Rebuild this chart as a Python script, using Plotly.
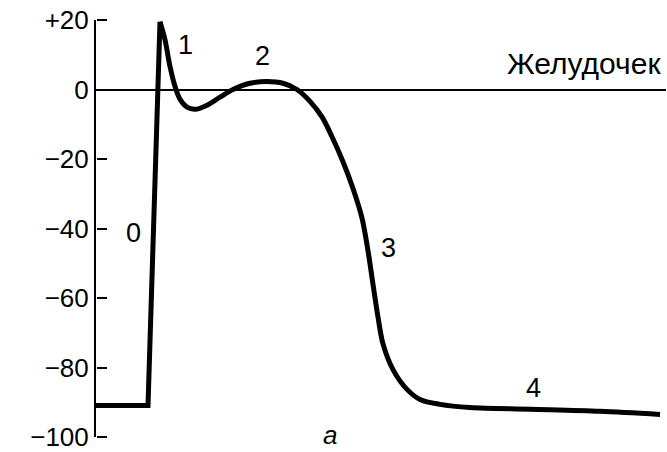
import plotly.graph_objects as go

# resting phase + upstroke (phase 0), straight segments
t_fast = [0, 52, 64]
v_fast = [-90.9, -90.9, 19.5]

# phases 1-4, smooth curve from the spike peak onward
t_slow = [64, 69, 74, 79, 84, 91, 99, 111, 124, 137, 154, 171, 187, 201, 214,
          226, 236, 247, 257, 266, 272, 277, 282, 287, 297, 311, 324, 344, 374,
          434, 504, 564]
v_slow = [19.5, 14.3, 6.6, 0.9, -2.8, -5.1, -5.7, -4.5, -2.2, 0.0, 1.8, 2.3,
          1.8, 0.0, -3.4, -7.9, -13.6, -20.8, -28.5, -37.0, -46.4, -56.1, -65.5,
          -73.2, -80.6, -86.3, -89.2, -90.6, -91.5, -92.0, -92.6, -93.5]

tick_vals = [-100, -80, -60, -40, -20, 0, 20]
tick_text = ["\u2212100", "\u221280", "\u221260", "\u221240", "\u221220", "0", "+20"]

phase_labels = ["0", "1", "2", "3", "4"]
phase_t = [37, 89, 166, 292, 437]
phase_v = [-41.3, 12.9, 9.5, -45.6, -86.0]

FONT = "Liberation Sans, Arial, sans-serif"
Y_RANGE = [-100, 20]

fig = go.Figure()
line_style = dict(color="black", width=5)
fig.add_trace(go.Scatter(x=t_fast, y=v_fast, mode="lines", line=line_style,
                         hoverinfo="skip"))
fig.add_trace(go.Scatter(x=t_slow, y=v_slow, mode="lines",
                         line=dict(line_style, shape="spline", smoothing=0.9),
                         hoverinfo="skip"))
# invisible helper trace so the tick-only overlay axis gets drawn
fig.add_trace(go.Scatter(x=t_fast, y=v_fast, mode="lines", yaxis="y2",
                         line=dict(width=0), opacity=0, hoverinfo="skip"))

for lab, t, v in zip(phase_labels, phase_t, phase_v):
    fig.add_annotation(x=t, y=v, text=lab, showarrow=False,
                       font=dict(size=27, color="black", family=FONT))

fig.add_annotation(x=567, y=7.5, text="Желудочек", showarrow=False,
                   xanchor="right", yanchor="middle",
                   font=dict(size=30, color="black", family=FONT))
# panel letter sits below the axis range, so place it in paper coords
fig.add_annotation(x=234, xref="x", y=0.005, yref="paper", text="<i>а</i>",
                   showarrow=False, yanchor="middle",
                   font=dict(size=26, color="black", family=FONT))

fig.update_layout(
    width=667,
    height=452,
    showlegend=False,
    plot_bgcolor="white",
    paper_bgcolor="white",
    margin=dict(l=96, r=1, t=20, b=15, autoexpand=False),
    font=dict(family=FONT, color="black"),
    xaxis=dict(range=[0, 570], visible=False),
    yaxis=dict(
        range=Y_RANGE,
        tickmode="array",
        tickvals=tick_vals,
        ticktext=tick_text,
        ticksuffix="\u00a0\u00a0",  # gap between labels and axis line
        tickfont=dict(size=26, color="black", family=FONT),
        ticklabeloverflow="allow",
        ticks="",
        showline=True,
        linewidth=2,
        linecolor="black",
        showgrid=False,
        zeroline=True,
        zerolinewidth=2,
        zerolinecolor="black",
    ),
    # overlay axis sitting on the left spine: its "outside" ticks point right,
    # giving the short tick marks that run into the plot
    yaxis2=dict(
        range=Y_RANGE,
        overlaying="y",
        side="right",
        anchor="free",
        position=0,
        tickmode="array",
        tickvals=tick_vals,
        ticks="outside",
        ticklen=10,
        tickwidth=2,
        tickcolor="black",
        showticklabels=False,
        showline=False,
        showgrid=False,
        zeroline=False,
    ),
)

# drop the browser's default page margin so the figure sits at 0,0
fig.write_html("out.html", config={"displayModeBar": False},
               post_script="document.body.style.margin='0';")
